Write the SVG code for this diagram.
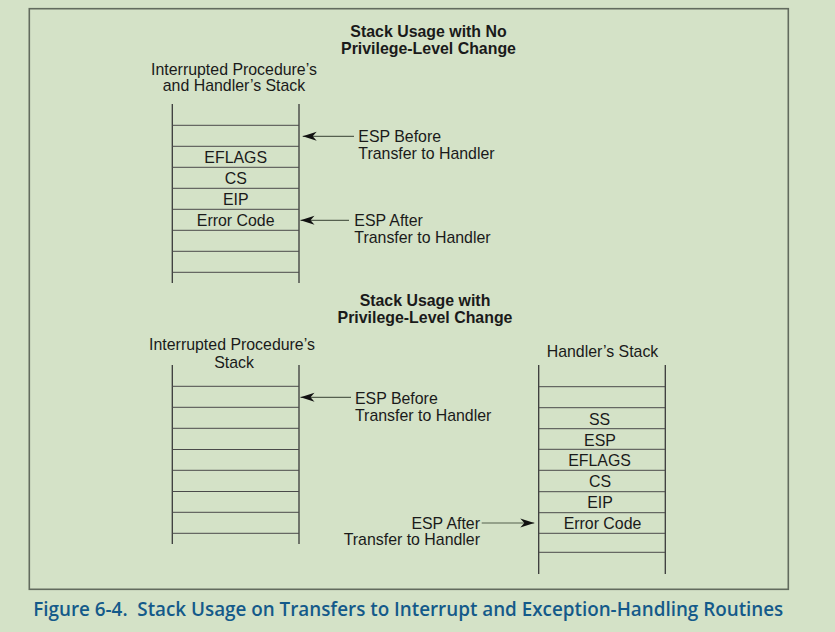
<svg xmlns="http://www.w3.org/2000/svg" width="835" height="632" viewBox="0 0 835 632">
<defs>
<style>
.bg{fill:#d4e2c7}
.frame{fill:none;stroke:#626b5e;stroke-width:1.6}
.v{stroke:#3a3a3a;stroke-width:1.3;fill:none}
.h{stroke:#4a4a4a;stroke-width:1;fill:none}
.t{font-family:"Liberation Sans",Arial,sans-serif;font-size:15.9px;fill:#1a1a1a}
.c{text-anchor:middle}
.b{font-weight:bold}
.e{text-anchor:end}
.arr{stroke:#55604f;stroke-width:1.2;fill:none;marker-end:url(#ah)}
.cap{font-family:"Open Sans","Liberation Sans",sans-serif;font-weight:600;font-size:20px;fill:#145a8a}
</style>
<marker id="ah" markerUnits="userSpaceOnUse" markerWidth="16" markerHeight="12" refX="14" refY="0" viewBox="0 -6 16 12" orient="auto" overflow="visible">
<path d="M0,-4.5 L14,0 L0,4.5 L4,0 Z" fill="#111"/>
</marker>
</defs>
<rect class="bg" x="0" y="0" width="835" height="632"/>
<rect class="frame" x="29.3" y="8.7" width="759" height="580.6"/>

<g id="title1">
<text class="t b c" x="428.5" y="36.5">Stack Usage with No</text>
<text class="t b c" x="428.5" y="53.5">Privilege-Level Change</text>
</g>

<g id="stack1">
<text class="t c" x="234" y="75">Interrupted Procedure’s</text>
<text class="t c" x="234" y="91">and Handler’s Stack</text>
<path class="v" d="M172.3,104 V283 M299,104 V283"/>
<path class="h" d="M172.3,125.3 H299 M172.3,146.3 H299 M172.3,167.3 H299 M172.3,188.3 H299 M172.3,209.3 H299 M172.3,230.3 H299 M172.3,251.3 H299 M172.3,272.3 H299"/>
<text class="t c" x="235.7" y="163.3">EFLAGS</text>
<text class="t c" x="235.7" y="184.3">CS</text>
<text class="t c" x="235.7" y="205.3">EIP</text>
<text class="t c" x="235.7" y="226.3">Error Code</text>
</g>

<g id="label-before1">
<text class="t" x="358.3" y="142">ESP Before</text>
<text class="t" x="358.3" y="159">Transfer to Handler</text>
</g>
<g id="label-after1">
<text class="t" x="354.3" y="225.7">ESP After</text>
<text class="t" x="354.3" y="242.5">Transfer to Handler</text>
</g>

<g id="title2">
<text class="t b c" x="425" y="306">Stack Usage with</text>
<text class="t b c" x="425" y="323.3">Privilege-Level Change</text>
</g>

<g id="stack2">
<text class="t c" x="232" y="350.3">Interrupted Procedure’s</text>
<text class="t c" x="234" y="368.3">Stack</text>
<path class="v" d="M172.3,365 V544 M299,365 V544"/>
<path class="h" d="M172.3,386.3 H299 M172.3,407.3 H299 M172.3,428.3 H299 M172.3,449.5 H299 M172.3,470.3 H299 M172.3,491.5 H299 M172.3,512.3 H299 M172.3,533.3 H299"/>
</g>

<g id="label-before2">
<text class="t" x="355" y="403.8">ESP Before</text>
<text class="t" x="355" y="420.8">Transfer to Handler</text>
</g>

<g id="stack3">
<text class="t c" x="602.5" y="357.3">Handler’s Stack</text>
<path class="v" d="M538.7,365 V574 M665.3,365 V574"/>
<path class="h" d="M538.7,386.7 H665.3 M538.7,407.7 H665.3 M538.7,428.7 H665.3 M538.7,449.3 H665.3 M538.7,470.3 H665.3 M538.7,491.7 H665.3 M538.7,512.7 H665.3 M538.7,533.3 H665.3 M538.7,552.3 H665.3"/>
<text class="t c" x="599.5" y="424.5">SS</text>
<text class="t c" x="600" y="445.5">ESP</text>
<text class="t c" x="599.5" y="465.8">EFLAGS</text>
<text class="t c" x="600" y="487.3">CS</text>
<text class="t c" x="600" y="508.3">EIP</text>
<text class="t c" x="602.5" y="529.3">Error Code</text>
</g>

<g id="label-after2">
<text class="t e" x="480" y="528.5">ESP After</text>
<text class="t e" x="480" y="545.3">Transfer to Handler</text>
</g>

<g id="connectors">
<line class="arr" x1="354" y1="136.3" x2="302.7" y2="136.3"/>
<line class="arr" x1="349" y1="220.3" x2="300.5" y2="220.3"/>
<line class="arr" x1="351" y1="397.3" x2="300.5" y2="397.3"/>
<line class="arr" x1="481.7" y1="523" x2="534.3" y2="523"/>
</g>

<text class="cap" x="33.3" y="615.7" textLength="750" lengthAdjust="spacingAndGlyphs" xml:space="preserve">Figure 6-4.  Stack Usage on Transfers to Interrupt and Exception-Handling Routines</text>
</svg>
